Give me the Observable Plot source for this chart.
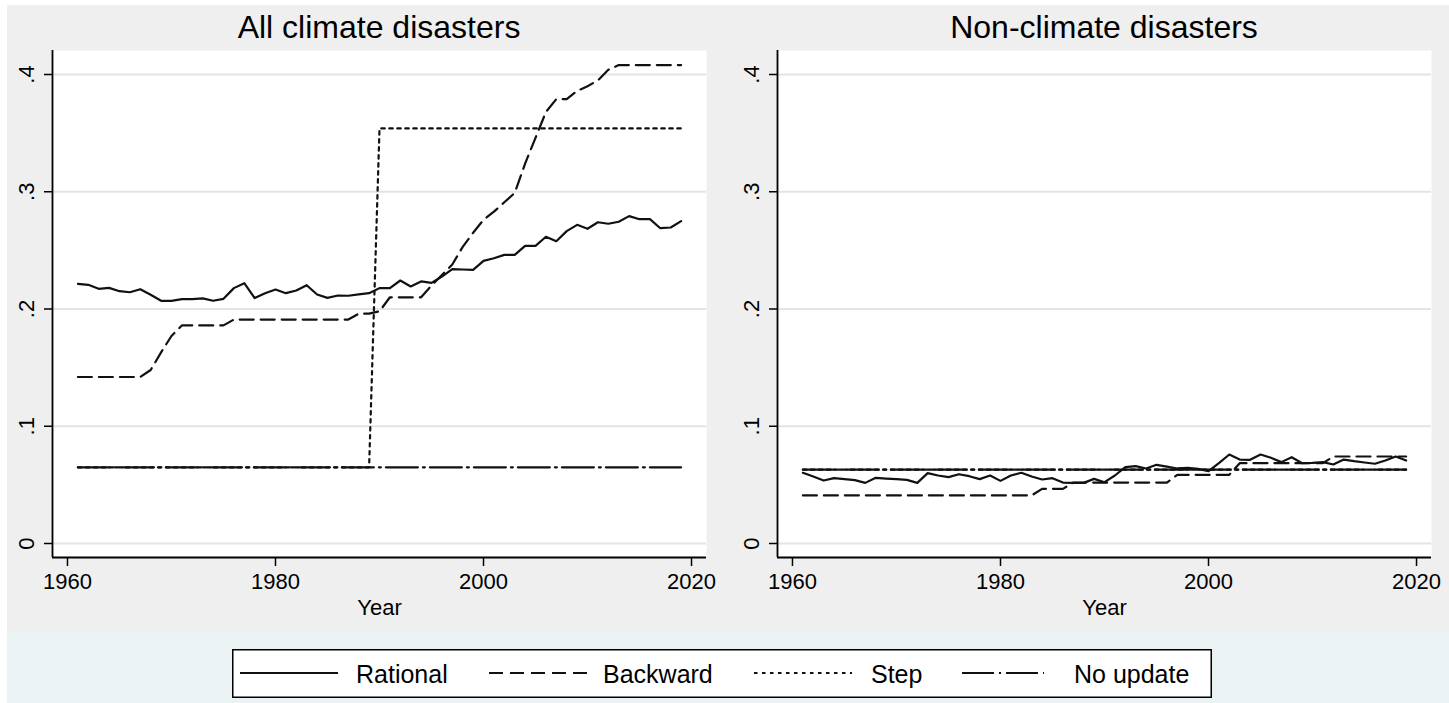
<!DOCTYPE html>
<html>
<head>
<meta charset="utf-8">
<script src="https://cdn.jsdelivr.net/npm/d3@7"></script>
<script src="https://cdn.jsdelivr.net/npm/@observablehq/plot@0.6"></script>
<style>
  html, body { margin: 0; padding: 0; background: #ffffff; }
  body { width: 1449px; height: 703px; overflow: hidden; font-family: "Liberation Sans", Arial, Helvetica, sans-serif; }
  #wrap { position: absolute; left: 7px; top: 5px; width: 1442px; height: 698px; background: #eaf2f3; }
  #gray { position: absolute; left: 0; top: 0; width: 1442px; height: 627px; background: #efefef; }
  .panel { position: absolute; top: 0; }
  .title { position: absolute; font-size: 32px; line-height: 32px; color: #000; text-align: center; white-space: nowrap; }
  #legend { position: absolute; left: 225px; top: 644px; }
</style>
</head>
<body>
<div id="wrap">
  <div id="gray"></div>
  <div id="left" class="panel" style="left:0px"></div>
  <div id="right" class="panel" style="left:733px"></div>
  <div class="title" style="left:45px; width:654px; top:6px">All climate disasters</div>
  <div class="title" style="left:770px; width:654px; top:6px">Non-climate disasters</div>
  <div id="legend"></div>
</div>
<script>
// ---------- data ----------
const years = [1961,1962,1963,1964,1965,1966,1967,1968,1969,1970,
  1971,1972,1973,1974,1975,1976,1977,1978,1979,1980,
  1981,1982,1983,1984,1985,1986,1987,1988,1989,1990,
  1991,1992,1993,1994,1995,1996,1997,1998,1999,2000,
  2001,2002,2003,2004,2005,2006,2007,2008,2009,2010,
  2011,2012,2013,2014,2015,2016,2017,2018,2019];

const seriesNames = ["Rational", "Backward", "Step", "No update"];

// All climate disasters
const climRational = [0.2215,0.2206,0.2172,0.2180,0.2152,0.2143,0.2169,0.2121,0.2070,0.2070,
  0.2084,0.2084,0.2090,0.2070,0.2087,0.2178,0.2220,0.2093,0.2135,0.2166,
  0.2135,0.2158,0.2203,0.2124,0.2095,0.2115,0.2113,0.2124,0.2135,0.2178,
  0.2178,0.2243,0.2192,0.2235,0.2223,0.2277,0.2340,0.2337,0.2334,0.2411,
  0.2433,0.2462,0.2462,0.2539,0.2539,0.2616,0.2578,0.2664,0.2718,0.2684,
  0.2740,0.2727,0.2744,0.2792,0.2766,0.2766,0.2689,0.2695,0.2749];
const climBackward = [0.142,0.142,0.142,0.142,0.142,0.142,0.142,0.148,0.163,0.177,
  0.186,0.186,0.186,0.186,0.186,0.191,0.191,0.191,0.191,0.191,
  0.191,0.191,0.191,0.191,0.191,0.191,0.191,0.196,0.196,0.198,
  0.210,0.210,0.210,0.210,0.220,0.229,0.238,0.253,0.265,0.276,
  0.283,0.291,0.299,0.324,0.346,0.368,0.379,0.379,0.386,0.390,
  0.395,0.404,0.408,0.408,0.408,0.408,0.408,0.408,0.408];
const climStep = [0.065,0.065,0.065,0.065,0.065,0.065,0.065,0.065,0.065,0.065,
  0.065,0.065,0.065,0.065,0.065,0.065,0.065,0.065,0.065,0.065,
  0.065,0.065,0.065,0.065,0.065,0.065,0.065,0.065,0.065,0.354,
  0.354,0.354,0.354,0.354,0.354,0.354,0.354,0.354,0.354,0.354,
  0.354,0.354,0.354,0.354,0.354,0.354,0.354,0.354,0.354,0.354,
  0.354,0.354,0.354,0.354,0.354,0.354,0.354,0.354,0.354];
const climNoUpdate = [0.065,0.065,0.065,0.065,0.065,0.065,0.065,0.065,0.065,0.065,
  0.065,0.065,0.065,0.065,0.065,0.065,0.065,0.065,0.065,0.065,
  0.065,0.065,0.065,0.065,0.065,0.065,0.065,0.065,0.065,0.065,
  0.065,0.065,0.065,0.065,0.065,0.065,0.065,0.065,0.065,0.065,
  0.065,0.065,0.065,0.065,0.065,0.065,0.065,0.065,0.065,0.065,
  0.065,0.065,0.065,0.065,0.065,0.065,0.065,0.065,0.065];

// Non-climate disasters
const nonRational = [0.0603,0.0571,0.0537,0.0557,0.0549,0.0540,0.0517,0.0560,0.0554,0.0549,
  0.0543,0.0517,0.0600,0.0580,0.0566,0.0591,0.0574,0.0549,0.0580,0.0534,
  0.0580,0.0603,0.0571,0.0546,0.0557,0.0520,0.0517,0.0517,0.0551,0.0523,
  0.0580,0.0651,0.0660,0.0640,0.0671,0.0655,0.0640,0.0645,0.0637,0.0617,
  0.0685,0.0759,0.0716,0.0714,0.0759,0.0731,0.0694,0.0736,0.0685,0.0688,
  0.0694,0.0674,0.0716,0.0702,0.0691,0.0680,0.0708,0.0742,0.0708];
const nonBackward = [0.041,0.041,0.041,0.041,0.041,0.041,0.041,0.041,0.041,0.041,
  0.041,0.041,0.041,0.041,0.041,0.041,0.041,0.041,0.041,0.041,
  0.041,0.041,0.041,0.0466,0.0466,0.0466,0.052,0.052,0.052,0.052,
  0.052,0.052,0.052,0.052,0.052,0.052,0.0586,0.0586,0.0586,0.0586,
  0.0586,0.0586,0.0685,0.0685,0.0685,0.0685,0.0685,0.0685,0.0685,0.0685,
  0.0685,0.0742,0.0742,0.0742,0.0742,0.0742,0.0742,0.0742,0.0742];
const nonStep = [0.063,0.063,0.063,0.063,0.063,0.063,0.063,0.063,0.063,0.063,
  0.063,0.063,0.063,0.063,0.063,0.063,0.063,0.063,0.063,0.063,
  0.063,0.063,0.063,0.063,0.063,0.063,0.063,0.063,0.063,0.063,
  0.063,0.063,0.063,0.063,0.063,0.063,0.063,0.063,0.063,0.063,
  0.063,0.063,0.063,0.063,0.063,0.063,0.063,0.063,0.063,0.063,
  0.063,0.063,0.063,0.063,0.063,0.063,0.063,0.063,0.063];
const nonNoUpdate = [0.063,0.063,0.063,0.063,0.063,0.063,0.063,0.063,0.063,0.063,
  0.063,0.063,0.063,0.063,0.063,0.063,0.063,0.063,0.063,0.063,
  0.063,0.063,0.063,0.063,0.063,0.063,0.063,0.063,0.063,0.063,
  0.063,0.063,0.063,0.063,0.063,0.063,0.063,0.063,0.063,0.063,
  0.063,0.063,0.063,0.063,0.063,0.063,0.063,0.063,0.063,0.063,
  0.063,0.063,0.063,0.063,0.063,0.063,0.063,0.063,0.063];

const xTicks = [1960, 1980, 2000, 2020];
const yTicks = [0, 0.1, 0.2, 0.3, 0.4];
const yTickLabels = ["0", ".1", ".2", ".3", ".4"];
const xLabel = "Year";

// ---------- styles ----------
const dash = {
  "Rational": null,
  "Backward": "14,7",
  "Step": "3.5,4.5",
  "No update": "32,5,2,5"
};
const xDomain = [1958.56, 2021.44];
const yDomain = [-0.01194, 0.42047];

function rows(arrs) {
  const out = [];
  seriesNames.forEach((s, k) => {
    arrs[k].forEach((v, i) => out.push({year: years[i], value: v, series: s}));
  });
  return out;
}

function panel(arrs, width, marginLeft, marginRight) {
  const data = rows(arrs);
  const order = ["No update", "Step", "Backward", "Rational"];
  return Plot.plot({
    width, height: 627,
    marginLeft, marginRight, marginTop: 45, marginBottom: 75,
    style: {fontFamily: '"Liberation Sans", Arial, Helvetica, sans-serif', fontSize: "22px", color: "#000", background: "transparent", overflow: "visible"},
    x: {domain: xDomain},
    y: {domain: yDomain},
    marks: [
      Plot.frame({fill: "#ffffff", stroke: null}),
      Plot.gridY(yTicks, {stroke: "#e4e4e4", strokeOpacity: 1, strokeWidth: 2}),
      ...order.map(s => Plot.lineY(data.filter(d => d.series === s), {
        x: "year", y: "value", stroke: "#111", strokeWidth: 2.2,
        strokeDasharray: dash[s], strokeLinejoin: "round"
      })),
      Plot.ruleX([xDomain[0]], {stroke: "#000", strokeWidth: 1.8}),
      Plot.ruleY([yDomain[0]], {stroke: "#000", strokeWidth: 1.8}),
      Plot.axisX(xTicks, {tickSize: 9, tickPadding: 7, strokeWidth: 1.5, tickFormat: d => String(d),
        label: null, fontSize: 22}),
      Plot.text([xLabel], {text: d => d, frameAnchor: "bottom", dy: 57, lineAnchor: "bottom", fontSize: 22, fill: "#000"}),
      Plot.axisY(yTicks, {tickSize: 8, tickPadding: 11, tickRotate: -90, strokeWidth: 1.5,
        tickFormat: d => yTickLabels[yTicks.indexOf(d)], label: null, fontSize: 22})
    ]
  });
}

document.getElementById("left").appendChild(
  panel([climRational, climBackward, climStep, climNoUpdate], 733, 45, 34));
document.getElementById("right").appendChild(
  panel([nonRational, nonBackward, nonStep, nonNoUpdate], 709, 37, 18));

// ---------- legend ----------
const legendItems = [
  {name: "Rational", x1: 8, x2: 106, tx: 124},
  {name: "Backward", x1: 257, x2: 355, tx: 371},
  {name: "Step", x1: 522, x2: 620, tx: 639},
  {name: "No update", x1: 730, x2: 812, tx: 842}
];
const lw = 980, lh = 49;
const svg = d3.select("#legend").append("svg")
  .attr("width", lw).attr("height", lh)
  .style("font-family", '"Liberation Sans", Arial, Helvetica, sans-serif');
svg.append("rect").attr("x", 0.75).attr("y", 0.75).attr("width", lw - 1.5).attr("height", lh - 1.5)
  .attr("fill", "#fff").attr("stroke", "#000").attr("stroke-width", 1.5);
legendItems.forEach(it => {
  svg.append("line").attr("x1", it.x1).attr("x2", it.x2).attr("y1", 24).attr("y2", 24)
    .attr("stroke", "#111").attr("stroke-width", 2.2)
    .attr("stroke-dasharray", dash[it.name]);
  svg.append("text").attr("x", it.tx).attr("y", 34).attr("font-size", 25).attr("fill", "#000").text(it.name);
});
</script>
</body>
</html>
